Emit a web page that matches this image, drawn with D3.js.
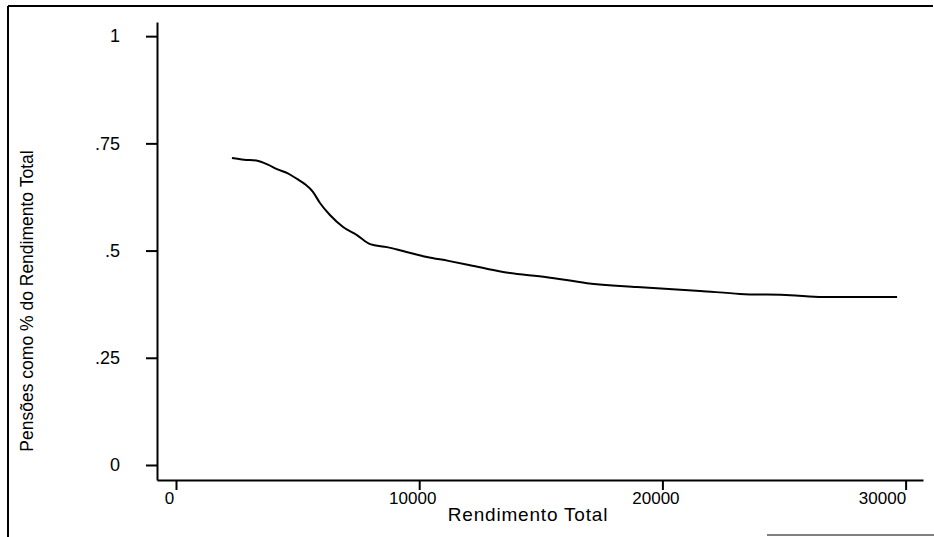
<!DOCTYPE html>
<html>
<head>
<meta charset="utf-8">
<script src="https://cdn.jsdelivr.net/npm/d3@7"></script>
<style>
    body { margin: 0; background: #fff; }
    svg { display: block; font-family: "Liberation Sans", Arial, sans-serif; }
</style>
</head>
<body>
<div id="chart"></div>
<script>
// Rendimento total (x) e pensões como fração do rendimento (y)
const rendimento = [2300, 2800, 3300, 3800, 4150, 4600, 4975, 5300, 5630, 5920, 6330, 6870,
    7440, 7980, 8680, 9330, 10320, 11200, 12090, 13450, 15250, 16900, 18960, 21550,
    23190, 25250, 26600, 29650];
const pensoes = [0.716, 0.712, 0.710, 0.700, 0.690, 0.680, 0.667, 0.655, 0.637, 0.611, 0.583, 0.555,
    0.536, 0.515, 0.508, 0.499, 0.485, 0.476, 0.466, 0.450, 0.438, 0.424, 0.415, 0.406,
    0.399, 0.396, 0.392, 0.392];

const xTicks = [0, 10000, 20000, 30000];
const yTicks = [0, 0.25, 0.5, 0.75, 1];
const yTickLabels = ['0', '.25', '.5', '.75', '1'];

const width = 934;
const height = 537;

const svg = d3.select('#chart')
    .append('svg')
    .attr('width', width)
    .attr('height', height);

// Moldura (digitalizada, só parte visível)
const frame = svg.append('g')
    .attr('stroke', '#000')
    .attr('stroke-width', 2);
frame.append('line').attr('x1', 8).attr('y1', 6).attr('x2', 933).attr('y2', 6);
frame.append('line').attr('x1', 8).attr('y1', 6).attr('x2', 8).attr('y2', 537);
frame.append('line').attr('x1', 767).attr('y1', 535).attr('x2', 934).attr('y2', 535)
    .attr('stroke-width', 1);

// Escalas (domínio estendido como no Stata)
const xScale = d3.scaleLinear()
    .domain([-781, 30715])
    .range([157, 923]);

const yScale = d3.scaleLinear()
    .domain([-0.035, 1.033])
    .range([480, 22]);

// Eixo X
const xAxis = svg.append('g')
    .attr('transform', 'translate(0, 480)')
    .call(d3.axisBottom(xScale)
        .tickValues(xTicks)
        .tickSize(10)
        .tickSizeOuter(0)
        .tickPadding(2)
        .tickFormat(d => d.toString()));

xAxis.select('.domain').attr('stroke-width', 2);
xAxis.selectAll('.tick line').attr('stroke-width', 2);
xAxis.selectAll('.tick text')
    .style('font-size', '17px')
    .style('font-family', '"Liberation Sans", Arial, sans-serif')
    .attr('fill', '#000')
    .attr('dx', -7)
    .filter(d => d === 30000)
    .attr('text-anchor', 'end')
    .attr('dx', 0);

// Eixo Y
const yAxis = svg.append('g')
    .attr('transform', 'translate(157, 0)')
    .call(d3.axisLeft(yScale)
        .tickValues(yTicks)
        .tickSize(11)
        .tickSizeOuter(0)
        .tickPadding(26)
        .tickFormat((d, i) => yTickLabels[i]));

yAxis.select('.domain').attr('stroke-width', 2);
yAxis.selectAll('.tick line').attr('stroke-width', 2);
yAxis.selectAll('.tick text')
    .style('font-size', '18px')
    .style('font-family', '"Liberation Sans", Arial, sans-serif')
    .attr('fill', '#000');

// Títulos dos eixos
svg.append('text')
    .attr('x', 528)
    .attr('y', 521)
    .attr('text-anchor', 'middle')
    .style('font-size', '19px')
    .style('letter-spacing', '0.8px')
    .text('Rendimento Total');

svg.append('text')
    .attr('transform', 'translate(33, 301) rotate(-90)')
    .attr('text-anchor', 'middle')
    .style('font-size', '17.5px')
    .text('Pensões como % do Rendimento Total');

// Curva
const line = d3.line()
    .x((d, i) => xScale(rendimento[i]))
    .y(d => yScale(d))
    .curve(d3.curveMonotoneX);

svg.append('path')
    .datum(pensoes)
    .attr('fill', 'none')
    .attr('stroke', '#000')
    .attr('stroke-width', 2)
    .attr('d', line);
</script>
</body>
</html>
